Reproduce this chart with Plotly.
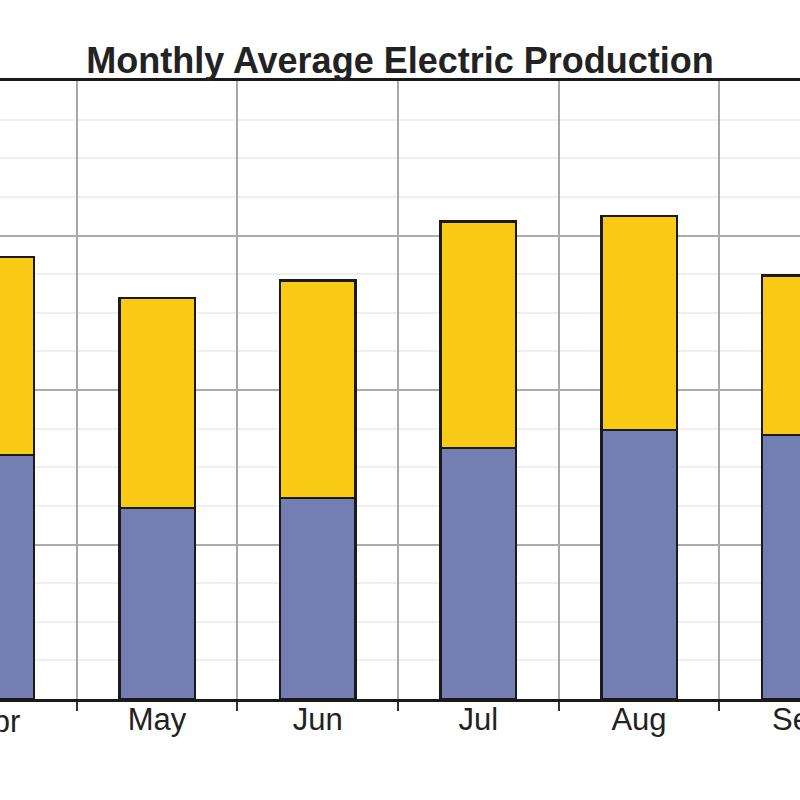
import plotly.graph_objects as go

months = ["Apr", "May", "Jun", "Jul", "Aug", "Sep"]
base_values = [316, 247, 260, 325, 348, 342]
top_values = [256, 272, 282, 293, 277, 206]
series_names = ["Base", "Peak"]
y_major = 200
y_minor = 50
y_max = 800

BLUE = "#737FB3"
YELLOW = "#F8CA16"
FONT = "Liberation Sans, Arial, sans-serif"

x_range = [0.0228, 5.002]

fig = go.Figure()
fig.add_trace(go.Bar(
    x=months, y=base_values, name=series_names[0],
    marker=dict(color=BLUE, line=dict(color="#1a1a1a", width=2.5)),
    width=0.47,
))
fig.add_trace(go.Bar(
    x=months, y=top_values, name=series_names[1],
    marker=dict(color=YELLOW, line=dict(color="#1a1a1a", width=2.5)),
    width=0.47,
))

# First category label falls just outside the visible range; place it from the axis range
apr_frac = (months.index("Apr") - x_range[0]) / (x_range[1] - x_range[0])
fig.add_annotation(
    text=months[0], x=apr_frac, xref="paper", y=0, yref="paper",
    yanchor="top", xanchor="center", showarrow=False, yshift=-3,
    font=dict(family=FONT, size=31, color="#222222"),
)

fig.update_layout(
    barmode="stack",
    width=800, height=800,
    margin=dict(l=0, r=0, t=81, b=101, autoexpand=False),
    plot_bgcolor="white", paper_bgcolor="white",
    showlegend=False,
    title=dict(
        text="Monthly Average Electric Production",
        x=0.5, xanchor="center", y=1 - 60 / 800, yref="container", yanchor="middle",
        font=dict(family=FONT, size=36, color="#222222", weight="bold"),
    ),
    xaxis=dict(
        type="category", categoryorder="array", categoryarray=months,
        range=x_range, automargin=False,
        tickson="boundaries", ticks="outside", ticklen=9, tickwidth=2, tickcolor="#333333",
        ticklabelstandoff=-9,
        showgrid=True, gridcolor="#a8a8a8", gridwidth=2,
        showline=True, linecolor="#1a1a1a", linewidth=3, mirror=True,
        tickfont=dict(family=FONT, size=31, color="#222222"),
    ),
    yaxis=dict(
        range=[0, y_max], dtick=y_major, tick0=0, automargin=False,
        showgrid=True, gridcolor="#ababab", gridwidth=2,
        minor=dict(dtick=y_minor, showgrid=True, gridcolor="#efefef", gridwidth=2),
        showticklabels=False, ticks="", zeroline=False, showline=False,
    ),
    bargap=0.53,
)

post = (
    "document.documentElement.style.margin='0';"
    "document.documentElement.style.overflow='hidden';"
    "document.body.style.margin='0';"
    "document.body.style.padding='0';"
    "document.body.style.overflow='hidden';"
)
fig.write_html("out.html", post_script=post, config={"displayModeBar": False})
